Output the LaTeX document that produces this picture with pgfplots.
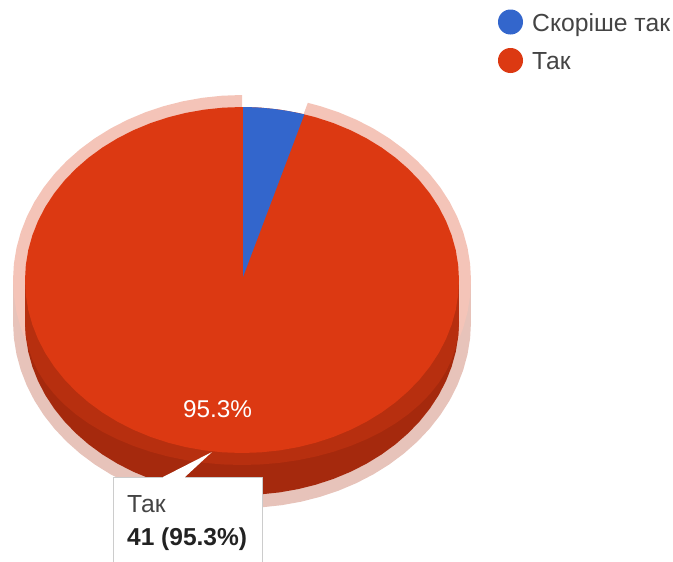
\documentclass[border=0pt]{standalone}
\usepackage{fontspec}
\setmainfont{Liberation Sans}
\usepackage{pgfplots}
\usepackage{pgfplotstable}
\pgfplotsset{compat=1.18}

\definecolor{blueslice}{HTML}{3366CC}
\definecolor{redslice}{HTML}{DC3912}
\definecolor{sidemid}{HTML}{B72F0F}
\definecolor{sidedark}{HTML}{A5290D}
\definecolor{halotop}{HTML}{F4C4B8}
\definecolor{halolow}{HTML}{E7C3BA}
\definecolor{legendtext}{HTML}{444444}
\definecolor{tipborder}{HTML}{CCCCCC}
\definecolor{tiptext}{HTML}{222222}

% angle round the pie, clockwise from the top
\pgfplotstableread[row sep=\\]{
a\\ 0\\ 5\\ 10\\ 15\\ 20\\ 25\\ 30\\ 35\\ 40\\ 45\\ 50\\ 55\\ 60\\ 65\\ 70\\ 75\\ 80\\ 85\\
90\\ 95\\ 100\\ 105\\ 110\\ 115\\ 120\\ 125\\ 130\\ 135\\ 140\\ 145\\ 150\\ 155\\ 160\\ 165\\ 170\\ 175\\
180\\ 185\\ 190\\ 195\\ 200\\ 205\\ 210\\ 215\\ 220\\ 225\\ 230\\ 235\\ 240\\ 245\\ 250\\ 255\\ 260\\ 265\\
270\\ 275\\ 280\\ 285\\ 290\\ 295\\ 300\\ 305\\ 310\\ 315\\ 320\\ 325\\ 330\\ 335\\ 340\\ 345\\ 350\\ 355\\ 360\\
}\fullarc

% the selected slice: 41 of 43 answers, from 16.7 degrees round to 360
\pgfplotstableread[row sep=\\]{
a r\\ 16.7 1\\ 20 1\\ 25 1\\ 30 1\\ 35 1\\ 40 1\\ 45 1\\ 50 1\\ 55 1\\ 60 1\\ 65 1\\ 70 1\\ 75 1\\ 80 1\\ 85 1\\
90 1\\ 95 1\\ 100 1\\ 105 1\\ 110 1\\ 115 1\\ 120 1\\ 125 1\\ 130 1\\ 135 1\\ 140 1\\ 145 1\\ 150 1\\ 155 1\\ 160 1\\ 165 1\\ 170 1\\ 175 1\\
180 1\\ 185 1\\ 190 1\\ 195 1\\ 200 1\\ 205 1\\ 210 1\\ 215 1\\ 220 1\\ 225 1\\ 230 1\\ 235 1\\ 240 1\\ 245 1\\ 250 1\\ 255 1\\ 260 1\\ 265 1\\
270 1\\ 275 1\\ 280 1\\ 285 1\\ 290 1\\ 295 1\\ 300 1\\ 305 1\\ 310 1\\ 315 1\\ 320 1\\ 325 1\\ 330 1\\ 335 1\\ 340 1\\ 345 1\\ 350 1\\ 355 1\\ 360 1\\ 360 0\\
}\redarc

% cx cy rx ry colour
\newcommand{\pieellipse}[5]{%
  \addplot[fill=#5,draw=none] table[
    x index=0, y index=0,
    x expr={#1+#3*sin(\thisrow{a})},
    y expr={#2-#4*cos(\thisrow{a})}] {\fullarc};
}

\begin{document}
\begin{tikzpicture}
\begin{axis}[
  scale only axis,
  width=673pt,
  height=562pt,
  xmin=0, xmax=673,
  ymin=0, ymax=562,
  y dir=reverse,
  hide axis,
  no markers,
  every axis plot post/.append style={line join=round},
  ]
  % pale ring, lower part
  \addplot[fill=halolow,draw=none] coordinates {(13,280) (471,280) (471,322) (13,322)};
  \pieellipse{242}{322}{229}{186}{halolow}
  % pale ring, top part, open over the blue slice
  \addplot[fill=halotop,draw=none] table[
    x expr={242+\thisrow{r}*229*sin(\thisrow{a})},
    y expr={280-\thisrow{r}*185*cos(\thisrow{a})}] {\redarc};
  % side wall
  \addplot[fill=sidedark,draw=none] coordinates {(25,280) (459,280) (459,322) (25,322)};
  \pieellipse{242}{322}{217}{173}{sidedark}
  \addplot[fill=sidemid,draw=none] coordinates {(25,280) (459,280) (459,323) (25,323)};
  \pieellipse{242}{323}{217}{142}{sidemid}
  % top face
  \pieellipse{242}{280}{217}{173}{redslice}
  \addplot[fill=blueslice,draw=none] coordinates {
    (243,277) (243,107) (257.1,107.4) (272.2,108.7) (287.1,110.8) (304.4,114.3)};

  % tooltip
  \addplot[fill=white,draw=none] coordinates {
    (113,563) (113,477) (163,477) (212,452) (185,477) (262,477) (262,563)};
  \addplot[draw=tipborder,line width=1pt] coordinates {(113,563) (113,477) (163,477)};
  \addplot[draw=tipborder,line width=1pt] coordinates {(185,477) (262,477) (262,563)};

  % legend
  \pieellipse{510.5}{22}{12.5}{12.5}{blueslice}
  \pieellipse{510.5}{60.5}{12.5}{12.5}{redslice}

  \node[anchor=base west,inner sep=0pt,text=legendtext,font=\fontsize{24.7}{28}\selectfont]
    at (axis cs:532,31) {Скоріше так};
  \node[anchor=base west,inner sep=0pt,text=legendtext,font=\fontsize{24.7}{28}\selectfont]
    at (axis cs:532,69) {Так};
  \node[anchor=base west,inner sep=0pt,text=white,font=\fontsize{24.3}{28}\selectfont]
    at (axis cs:183,417) {95.3\%};
  \node[anchor=base west,inner sep=0pt,text=legendtext,font=\fontsize{24.7}{28}\selectfont]
    at (axis cs:127,512) {Так};
  \node[anchor=base west,inner sep=0pt,text=tiptext,font=\fontsize{24.5}{28}\selectfont\bfseries]
    at (axis cs:127,545) {41 (95.3\%)};
\end{axis}
\pgfresetboundingbox
\path (current axis.south west) rectangle (current axis.north east);
\end{tikzpicture}
\end{document}
